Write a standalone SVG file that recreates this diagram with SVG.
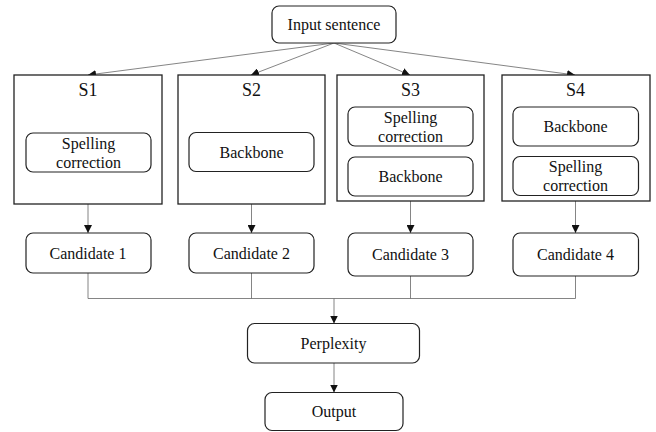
<svg xmlns="http://www.w3.org/2000/svg" width="656" height="432" viewBox="0 0 656 432">
<defs>
<marker id="ah" viewBox="0 0 8 8" refX="8" refY="4" markerWidth="8" markerHeight="8" markerUnits="userSpaceOnUse" orient="auto">
<path d="M0,0 L8,4 L0,8 Z" fill="#111"/>
</marker>
<style>
.t{font-family:"Liberation Serif","Times New Roman",serif;font-size:16px;fill:#111;text-anchor:middle}
.s{font-size:18px}
.box{fill:#fff;stroke:#222;stroke-width:1.3}
.rb{fill:#fff;stroke:#222;stroke-width:1.2}
.c{fill:none;stroke:#666;stroke-width:0.8}
.ca{fill:none;stroke:#666;stroke-width:0.8;marker-end:url(#ah)}
</style>
</defs>
<rect width="656" height="432" fill="#fff"/>
<g id="connectors">
<line class="ca" x1="334" y1="43" x2="88" y2="75"/>
<line class="ca" x1="334" y1="43" x2="251" y2="75"/>
<line class="ca" x1="334" y1="43" x2="410" y2="75"/>
<line class="ca" x1="334" y1="43" x2="575" y2="75"/>
<line class="ca" x1="88" y1="204" x2="88" y2="233"/>
<line class="ca" x1="251.5" y1="204" x2="251.5" y2="233"/>
<line class="ca" x1="410.5" y1="201" x2="410.5" y2="233"/>
<line class="ca" x1="575.5" y1="201" x2="575.5" y2="233"/>
<path class="c" d="M88,273 V298.5 H575.5 V276 M251.5,273 V298.5 M410.5,276 V298.5"/>
<line class="ca" x1="334" y1="298.5" x2="334" y2="323.5"/>
<line class="ca" x1="334" y1="363" x2="334" y2="392.5"/>
</g>
<g id="input">
<rect class="rb" x="272" y="6" width="124" height="37" rx="7"/>
<text class="t" x="334" y="30">Input sentence</text>
</g>
<g id="s1">
<rect class="box" x="14" y="75" width="148" height="129"/>
<text class="t s" x="88" y="96">S1</text>
<g id="s1-spelling">
<rect class="rb" x="26" y="133" width="125" height="39" rx="7"/>
<text class="t" x="88.5" y="148.5">Spelling</text>
<text class="t" x="88.5" y="167.5">correction</text>
</g>
</g>
<g id="s2">
<rect class="box" x="178" y="75" width="147" height="129"/>
<text class="t s" x="251.5" y="96">S2</text>
<g id="s2-backbone">
<rect class="rb" x="189" y="132.5" width="125" height="39" rx="7"/>
<text class="t" x="251.5" y="157.5">Backbone</text>
</g>
</g>
<g id="s3">
<rect class="box" x="337" y="75" width="147" height="126"/>
<text class="t s" x="410.5" y="96">S3</text>
<g id="s3-spelling">
<rect class="rb" x="348" y="107" width="125" height="39" rx="7"/>
<text class="t" x="410.5" y="122.5">Spelling</text>
<text class="t" x="410.5" y="141.5">correction</text>
</g>
<g id="s3-backbone">
<rect class="rb" x="348" y="157" width="125" height="39" rx="7"/>
<text class="t" x="410.5" y="182">Backbone</text>
</g>
</g>
<g id="s4">
<rect class="box" x="502" y="75" width="148" height="126"/>
<text class="t s" x="575.5" y="96">S4</text>
<g id="s4-backbone">
<rect class="rb" x="513" y="107" width="125.5" height="39" rx="7"/>
<text class="t" x="575.5" y="132">Backbone</text>
</g>
<g id="s4-spelling">
<rect class="rb" x="513" y="156.5" width="125.5" height="39" rx="7"/>
<text class="t" x="575.5" y="172">Spelling</text>
<text class="t" x="575.5" y="191">correction</text>
</g>
</g>
<g id="candidate1">
<rect class="rb" x="26" y="233" width="125" height="40" rx="7"/>
<text class="t" x="88" y="258.5">Candidate 1</text>
</g>
<g id="candidate2">
<rect class="rb" x="189" y="233" width="125" height="40" rx="7"/>
<text class="t" x="251.5" y="258.5">Candidate 2</text>
</g>
<g id="candidate3">
<rect class="rb" x="348" y="233" width="125" height="43" rx="7"/>
<text class="t" x="410.5" y="260">Candidate 3</text>
</g>
<g id="candidate4">
<rect class="rb" x="513" y="233" width="125.5" height="43" rx="7"/>
<text class="t" x="575.5" y="260">Candidate 4</text>
</g>
<g id="perplexity">
<rect class="rb" x="247.5" y="323.5" width="172" height="39.5" rx="7"/>
<text class="t" x="333.5" y="348.5">Perplexity</text>
</g>
<g id="output">
<rect class="rb" x="265" y="392.5" width="138" height="38" rx="7"/>
<text class="t" x="334" y="417">Output</text>
</g>
</svg>
